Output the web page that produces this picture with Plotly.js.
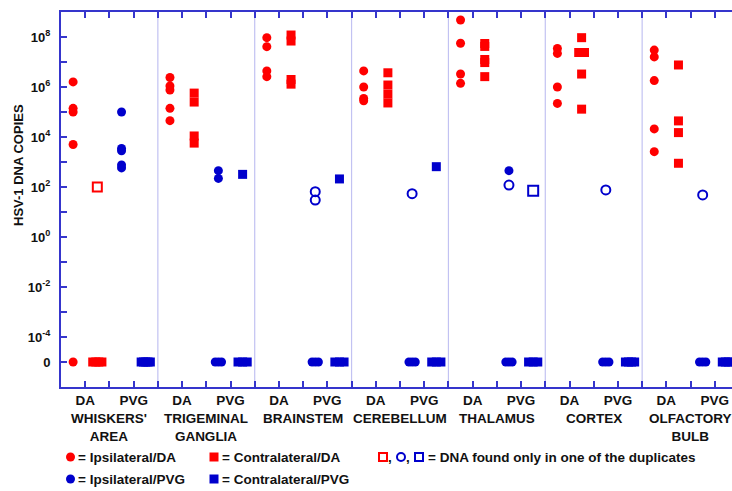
<!DOCTYPE html>
<html><head><meta charset="utf-8">
<script src="https://cdn.plot.ly/plotly-3.0.1.min.js"></script>
<style>html,body{margin:0;padding:0;overflow:hidden;background:#fff}#chart{width:745px;height:491px}</style>
</head><body><div id="chart"></div>
<script>
// ---- data ----
const groups = ["WHISKERS'<br>AREA", "TRIGEMINAL<br>GANGLIA", "BRAINSTEM", "CEREBELLUM", "THALAMUS", "CORTEX", "OLFACTORY<br>BULB"];
const subLabels = ["DA", "PVG"];
// 0 = no DNA detected (drawn on the "0" row)
const ipsiDA = [
  [1.6e6, 1.4e5, 1.0e5, 5e3, 0],
  [2.4e6, 1.1e6, 7.6e5, 1.4e5, 4.5e4],
  [9.4e7, 4.1e7, 4.4e6, 2.6e6],
  [4.4e6, 1.0e6, 3.5e5, 2.8e5],
  [4.8e8, 5.6e7, 3.3e6, 1.4e6],
  [3.5e7, 2.2e7, 1.0e6, 2.2e5],
  [3.0e7, 1.6e7, 1.8e6, 2.1e4, 2.6e3]
];
const contraDA = [
  [0, 0, 0, 0],
  [5.7e5, 2.5e5, 1.1e4, 5.7e3],
  [1.2e8, 6.9e7, 2.0e6, 1.3e6],
  [3.7e6, 1.2e6, 5.2e5, 2.3e5],
  [5.5e7, 4.2e7, 1.26e7, 9.5e6, 2.6e6],
  [9.4e7, 2.4e7, 2.4e7, 3.3e6, 1.3e5],
  [7.6e6, 4.4e4, 1.5e4, 8.9e2]
];
const ipsiPVG = [
  [1.0e5, 3.5e3, 2.8e3, 7.6e2, 5.8e2],
  [4.5e2, 2.2e2, 0, 0, 0],
  [0, 0, 0],
  [0, 0, 0],
  [4.5e2, 0, 0, 0],
  [0, 0, 0],
  [0, 0, 0]
];
const contraPVG = [
  [0, 0, 0, 0, 0],
  [3.2e2, 0, 0, 0],
  [2.1e2, 0, 0, 0],
  [6.5e2, 0, 0, 0],
  [0, 0, 0],
  [0, 0, 0, 0],
  [0, 0, 0, 0]
];
// DNA found only in one of the duplicates (open markers)
const contraDA_one = [[100], [], [], [], [], [], []];
const ipsiPVG_one = [[], [], [65, 30], [54], [120], [76], [48]];
const contraPVG_one = [[], [], [], [], [71], [], []];

const yTickExp = [-5, -4, -3, -2, -1, 0, 1, 2, 3, 4, 5, 6, 7, 8];

// ---- styling / layout ----
const RED = '#ff0000', BLUE = '#0000cc', AXIS = '#3535cc', SEP = '#c2c2f2';
const FONT = 'Liberation Sans, Arial, sans-serif';
const W = 745, H = 491, L = 61, R = 6, T = 12, B = 104;
const PW = W - L - R, PH = H - T - B;
const px2x = px => (px - L) / PW;
const py2y = py => (H - B - py) / PH;
const ZERO = 1e-5;

function place(vals, col, zeroHalf, dupHalf) {
  const xs = [], ys = [];
  vals.forEach((arr, g) => {
    const counts = {}, seen = {};
    arr.forEach(v => { counts[v] = (counts[v] || 0) + 1; });
    arr.forEach(v => {
      const n = counts[v];
      const i = seen[v] = (seen[v] || 0) + 1;
      const half = v === 0 ? zeroHalf : dupHalf;
      const off = n > 1 ? -half + 2 * half * (i - 1) / (n - 1) : 0;
      xs.push(g * 4 + col + 0.5 + off);
      ys.push(v === 0 ? ZERO : v);
    });
  });
  return {xs, ys};
}

function trace(vals, col, symbol, color, size, open) {
  const p = place(vals, col, symbol.startsWith('circle') ? 0.13 : 0.19, 0.12);
  return {
    x: p.xs, y: p.ys, type: 'scatter', mode: 'markers', showlegend: false, hoverinfo: 'y',
    marker: {symbol: symbol, size: size, color: color,
             line: {color: color, width: open ? 2 : 0}}
  };
}

const data = [
  trace(ipsiDA, 0, 'circle', RED, 9, false),
  trace(contraDA, 1, 'square', RED, 9, false),
  trace(ipsiPVG, 2, 'circle', BLUE, 9, false),
  trace(contraPVG, 3, 'square', BLUE, 9, false),
  trace(contraDA_one, 1, 'square-open', RED, 9, true),
  trace(ipsiPVG_one, 2, 'circle-open', BLUE, 9, true),
  trace(contraPVG_one, 3, 'square-open', BLUE, 10, true)
];

const nG = groups.length;
const xTickVals = [], xTickText = [];
for (let i = 0; i <= nG * 4; i++) {
  xTickVals.push(i);
  xTickText.push(i % 4 === 1 ? subLabels[0] : (i % 4 === 3 ? subLabels[1] : ' '));
}
const yTickVals = yTickExp.map(e => Math.pow(10, e));
const yTickText = yTickExp.map(e => e === -5 ? '0' : (Math.abs(e) % 2 === 0 ? '10<sup>' + e + '</sup>' : ' '));

const shapes = [];
for (let g = 1; g < nG; g++) {
  shapes.push({type: 'line', xref: 'x', yref: 'paper', x0: g * 4, x1: g * 4, y0: 0, y1: 1,
               line: {color: SEP, width: 1.2}, layer: 'below'});
}
function legMarker(kind, cx, cy, size, color, open) {
  shapes.push({type: kind, xref: 'paper', yref: 'paper', xsizemode: 'pixel', ysizemode: 'pixel',
    xanchor: px2x(cx), yanchor: py2y(cy), x0: -size / 2, x1: size / 2, y0: -size / 2, y1: size / 2,
    fillcolor: open ? 'rgba(0,0,0,0)' : color, line: {color: color, width: open ? 2 : 0}});
}
const annotations = [];
const bold = (size) => ({family: FONT, size: size, color: '#111', weight: 'bold'});
function legText(text, x, y) {
  annotations.push({text: text, xref: 'paper', yref: 'paper', x: px2x(x), y: py2y(y),
    xanchor: 'left', yanchor: 'middle', showarrow: false, font: bold(13.5), borderpad: 0});
}
groups.forEach((g, i) => {
  annotations.push({text: g, xref: 'x', yref: 'paper', x: i * 4 + 2, y: py2y(410),
    xanchor: 'center', yanchor: 'top', showarrow: false, font: bold(13.5), borderpad: 0});
});
annotations.push({text: 'HSV-1 DNA COPIES', xref: 'paper', yref: 'paper', x: px2x(18), y: py2y(165),
  xanchor: 'center', yanchor: 'middle', textangle: -90, showarrow: false, font: bold(13)});

// legend
const r1 = 457, r2 = 479;
legMarker('circle', 70.5, r1, 9, RED, false); legText('= Ipsilateral/DA', 77, r1);
legMarker('rect', 214, r1, 9, RED, false); legText('= Contralateral/DA', 221, r1);
legMarker('rect', 383, r1, 8, RED, true); legText(',', 387, r1);
legMarker('circle', 401, r1, 8, BLUE, true); legText(',', 405, r1);
legMarker('rect', 419, r1, 8, BLUE, true); legText('= DNA found only in one of the duplicates', 427, r1);
legMarker('circle', 70.5, r2, 9, BLUE, false); legText('= Ipsilateral/PVG', 77, r2);
legMarker('rect', 214, r2, 9, BLUE, false); legText('= Contralateral/PVG', 221, r2);

const layout = {
  width: W, height: H,
  margin: {l: L, r: R, t: T, b: B, pad: 0},
  paper_bgcolor: '#fff', plot_bgcolor: '#fff',
  showlegend: false,
  xaxis: {range: [0, nG * 4], tickmode: 'array', tickvals: xTickVals, ticktext: xTickText,
    ticks: 'inside', ticklen: 6, tickwidth: 2, tickcolor: AXIS, showline: true, linecolor: AXIS,
    linewidth: 2, mirror: 'ticks', showgrid: false, zeroline: false, tickfont: bold(13.5),
    ticklabelstandoff: 0},
  yaxis: {type: 'log', range: [-6, 9], tickmode: 'array', tickvals: yTickVals, ticktext: yTickText,
    ticks: 'inside', ticklen: 6, tickwidth: 2, tickcolor: AXIS, showline: true, linecolor: AXIS,
    linewidth: 2, mirror: 'ticks', showgrid: false, zeroline: false, tickfont: bold(13),
    ticklabelstandoff: 6},
  shapes: shapes,
  annotations: annotations
};
Plotly.newPlot('chart', data, layout, {displayModeBar: false, staticPlot: true});
</script>
</body></html>
